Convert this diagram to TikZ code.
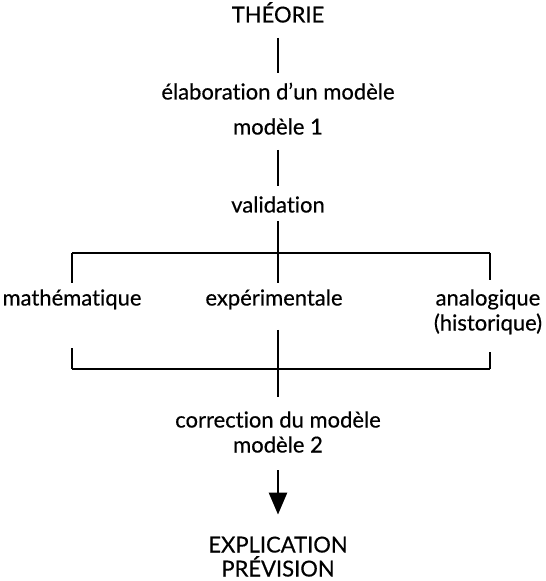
\documentclass[tikz,border=0pt]{standalone}
\usepackage{fontspec}
\setmainfont[Ligatures=NoCommon,FakeBold=0.4]{Lato}
\usetikzlibrary{arrows.meta}

\begin{document}
\begin{tikzpicture}[x=0.5pt,y=-0.5pt,
  txt/.style={inner sep=0pt,text height=7.5pt,text depth=2pt,font=\fontsize{11}{12}\selectfont},
  link/.style={black,line width=1.3pt}]

\useasboundingbox (0,0) rectangle (545,581);

\node[txt] (theorie) at (278,17) {THÉORIE};
\node[txt] (elaboration) at (278,94) {élaboration d'un modèle};
\node[txt] (modele1) at (278,129) {modèle 1};
\node[txt] (validation) at (278,207) {validation};
\node[txt] (mathematique) at (72,300) {mathématique};
\node[txt] (experimentale) at (274,300) {expérimentale};
\node[txt] (analogique) at (488,300) {analogique};
\node[txt] (historique) at (488,325) {(historique)};
\node[txt] (correction) at (278,422) {correction du modèle};
\node[txt] (modele2) at (278,447) {modèle 2};
\node[txt] (explication) at (278,547) {EXPLICATION};
\node[txt] (prevision) at (278,571) {PRÉVISION};

\coordinate (BL) at (72,253);
\coordinate (BM) at (278,253);
\coordinate (BR) at (490,253);
\coordinate (BRend) at (490,280);
\coordinate (CL) at (72,369);
\coordinate (CM) at (278,369);
\coordinate (CMtop) at (278,330);
\coordinate (CR) at (490,369);
\coordinate (CRtop) at (490,352);

\draw[link,shorten <=5.5pt,shorten >=5.5pt] (theorie) -- (elaboration);
\draw[link,shorten <=5.5pt,shorten >=5.5pt] (modele1) -- (validation);
\draw[link,shorten <=2pt,shorten >=-15pt] (validation) -- (BM);
\draw[link] (BL) -- (BR);
\draw[link,shorten >=3.75pt] (BL) -- (mathematique);
\draw[link] (BR) -- (BRend);
\draw[link,shorten <=19.25pt] (mathematique) -- (CL);
\draw[link] (CRtop) -- (CR);
\draw[link,shorten >=7.75pt] (CMtop) -- (correction);
\draw[link] (CL) -- (CR);
\draw[link,-{Triangle[width=9pt,length=11pt]},shorten <=6.75pt,shorten >=11.25pt] (modele2) -- (explication);

\end{tikzpicture}
\end{document}
